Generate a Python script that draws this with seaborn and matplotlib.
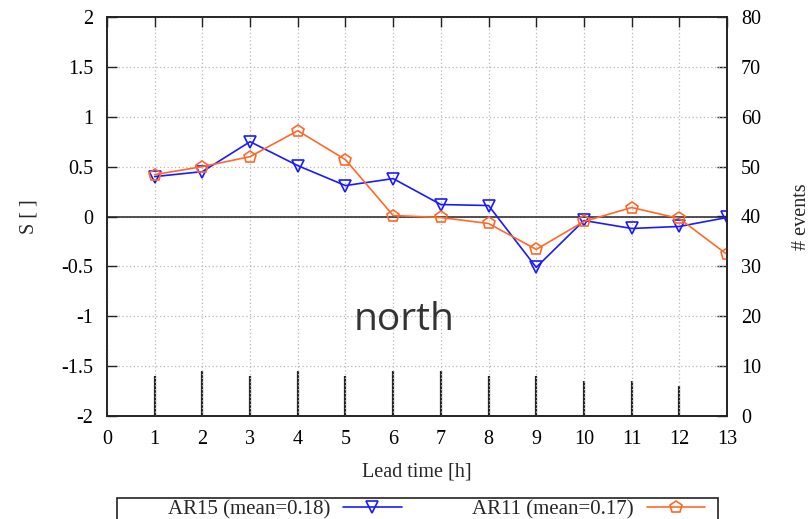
import numpy as np
import pandas as pd
import matplotlib
matplotlib.use("Agg")
import matplotlib.pyplot as plt
import seaborn as sns
from matplotlib.patches import Rectangle

lead_time = [1, 2, 3, 4, 5, 6, 7, 8, 9, 10, 11, 12, 13]
ar15 = [0.40, 0.45, 0.75, 0.51, 0.31, 0.38, 0.12, 0.11, -0.51, -0.04, -0.12, -0.10, -0.01]
ar11 = [0.42, 0.50, 0.60, 0.86, 0.57, 0.01, -0.01, -0.07, -0.33, -0.05, 0.09, -0.02, -0.38]
event_lead = [1, 2, 3, 4, 5, 6, 7, 8, 9, 10, 11, 12]
n_events = [8, 9, 8, 9, 8, 9, 9, 8, 8, 7, 7, 6]
label_ar15 = "AR15 (mean=0.18)"
label_ar11 = "AR11 (mean=0.17)"
region = "north"

sns.set_style("white")
serif = ["Liberation Serif", "DejaVu Serif"]
plt.rcParams["font.family"] = serif

fig = plt.figure(figsize=(8.12, 5.19), dpi=100)
ax = fig.add_axes([107 / 812, 1 - 416 / 519, (727 - 107) / 812, (416 - 17) / 519])
ax2 = ax.twinx()

df_ev = pd.DataFrame({"lead": event_lead, "n": n_events})
ax2.vlines(df_ev["lead"], 0, df_ev["n"], color="#222222", lw=1.6)
ax2.set_ylim(0, 80)
ax2.set_yticks(np.arange(0, 81, 10))

ax.set_zorder(ax2.get_zorder() + 1)
ax.patch.set_visible(False)

df = pd.DataFrame({"lead": lead_time, "ar15": ar15, "ar11": ar11})
blue = "#1a1aff"
orange = "#ff6a2a"
sns.lineplot(data=df, x="lead", y="ar15", ax=ax, color=blue, marker="v", ms=8,
             mfc="none", mec=blue, mew=1.2, lw=1.2, label=label_ar15)
sns.lineplot(data=df, x="lead", y="ar11", ax=ax, color=orange, marker="p", ms=9,
             mfc="none", mec=orange, mew=1.2, lw=1.2, label=label_ar11)
ax.axhline(0, color="#222222", lw=1.1, zorder=1)

ax.set_xlim(0, 13)
ax.set_ylim(-2, 2)
ax.set_xticks(range(0, 14))
ax.set_yticks(np.arange(-2, 2.01, 0.5))
ax.set_yticklabels(["-2", "-1.5", "-1", "-0.5", "0", "0.5", "1", "1.5", "2"])
ax.grid(True, color="#b8b8b8", linestyle=(0, (1, 2)), lw=0.9)

for a in (ax, ax2):
    for s in a.spines.values():
        s.set_color("#222222")
        s.set_linewidth(1.2)
ax.tick_params(axis="both", direction="in", length=7, width=1.0, colors="#222222",
               labelcolor="black", labelsize=14.5, top=True, right=False, pad=10)
ax2.tick_params(axis="y", direction="in", length=7, width=1.0, colors="#222222",
                labelcolor="black", labelsize=14.5, pad=10)

ax.set_xlabel("Lead time [h]", fontsize=14.5, labelpad=10)
ax.set_ylabel("S [ ]", fontsize=14.5, labelpad=16)
ax2.set_ylabel("# events", fontsize=14.5, labelpad=22)

ax.text(6.23, -1.04, region, ha="center", va="center", fontsize=28,
        color="#333333", family=["Open Sans", "DejaVu Sans"])

handles, labels = ax.get_legend_handles_labels()
ax.get_legend().remove()
fig.legend(handles, labels, loc="upper right", ncol=2, frameon=False,
           bbox_to_anchor=(709 / 812, 1 - 496 / 519), markerfirst=False,
           fontsize=15, handlelength=2.8, handletextpad=0.6, columnspacing=3.4,
           borderaxespad=0, borderpad=0.2)
fig.patches.append(Rectangle((117 / 812, -0.05), (718 - 117) / 812, (0.05 + 1 - 498 / 519),
                             transform=fig.transFigure, fill=False, edgecolor="#222222", lw=1.2))

fig.savefig("out.png", dpi=100)
